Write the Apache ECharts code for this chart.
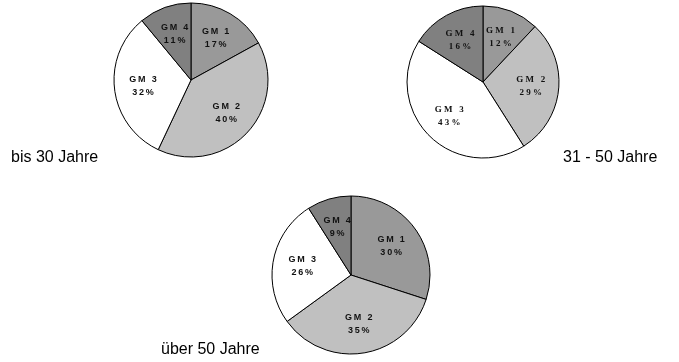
<!DOCTYPE html>
<html>
<head>
<meta charset="utf-8">
<script src="https://cdn.jsdelivr.net/npm/echarts@6/dist/echarts.min.js"></script>
<style>
html,body{margin:0;padding:0;background:#fff;}
#c{width:679px;height:362px;}
</style>
</head>
<body>
<div id="c"></div>
<script>
const categories = ['GM 1', 'GM 2', 'GM 3', 'GM 4'];
const groupTitles = ['bis 30 Jahre', '31 - 50 Jahre', 'über 50 Jahre'];
const valuesUnder30 = [17, 40, 32, 11];
const values31to50 = [12, 29, 43, 16];
const valuesOver50 = [30, 35, 26, 9];

const sliceColors = ['#999999', '#c0c0c0', '#ffffff', '#808080'];

function mkData(vals) {
  return categories.map((c, i) => ({ name: c, value: vals[i], itemStyle: { color: sliceColors[i] } }));
}

function spaced(s, sep) { return s.split('').join(sep); }

function pieSeries(vals, center, r, fontFamily, sep) {
  const base = {
    type: 'pie', center: center, startAngle: 90, clockwise: true,
    animation: false, silent: true, avoidLabelOverlap: false
  };
  return [
    Object.assign({}, base, {
      radius: r,
      data: mkData(vals),
      itemStyle: { borderColor: '#000', borderWidth: 1 },
      label: { show: false }, labelLine: { show: false }
    }),
    Object.assign({}, base, {
      radius: r * 1.18,
      data: categories.map((c, i) => ({ name: c, value: vals[i] })),
      itemStyle: { color: 'rgba(0,0,0,0)', borderWidth: 0 },
      labelLine: { show: false },
      label: {
        show: true, position: 'inner',
        formatter: p => spaced(p.name, sep) + '\n' + spaced(p.value + '%', sep),
        fontFamily: fontFamily, fontWeight: 'bold', fontSize: 9, lineHeight: 13,
        color: '#111', align: 'center'
      }
    })
  ];
}

const chart = echarts.init(document.getElementById('c'));
chart.setOption({
  backgroundColor: '#fff',
  series: [].concat(
    pieSeries(valuesUnder30, [191, 80], 77, '"Liberation Sans", Arial, sans-serif', '\u2009'),
    pieSeries(values31to50, [483, 82], 76, '"Liberation Serif", "Times New Roman", serif', ' '),
    pieSeries(valuesOver50, [351, 275], 79, '"Liberation Sans", Arial, sans-serif', '\u2009')
  ),
  graphic: [
    { type: 'text', left: 11, top: 150, style: { text: groupTitles[0], font: '16px "Liberation Sans", Arial, sans-serif', fill: '#000' } },
    { type: 'text', left: 563, top: 150, style: { text: groupTitles[1], font: '16px "Liberation Sans", Arial, sans-serif', fill: '#000' } },
    { type: 'text', left: 161, top: 342, style: { text: groupTitles[2], font: '16px "Liberation Sans", Arial, sans-serif', fill: '#000' } }
  ]
});
</script>
</body>
</html>
